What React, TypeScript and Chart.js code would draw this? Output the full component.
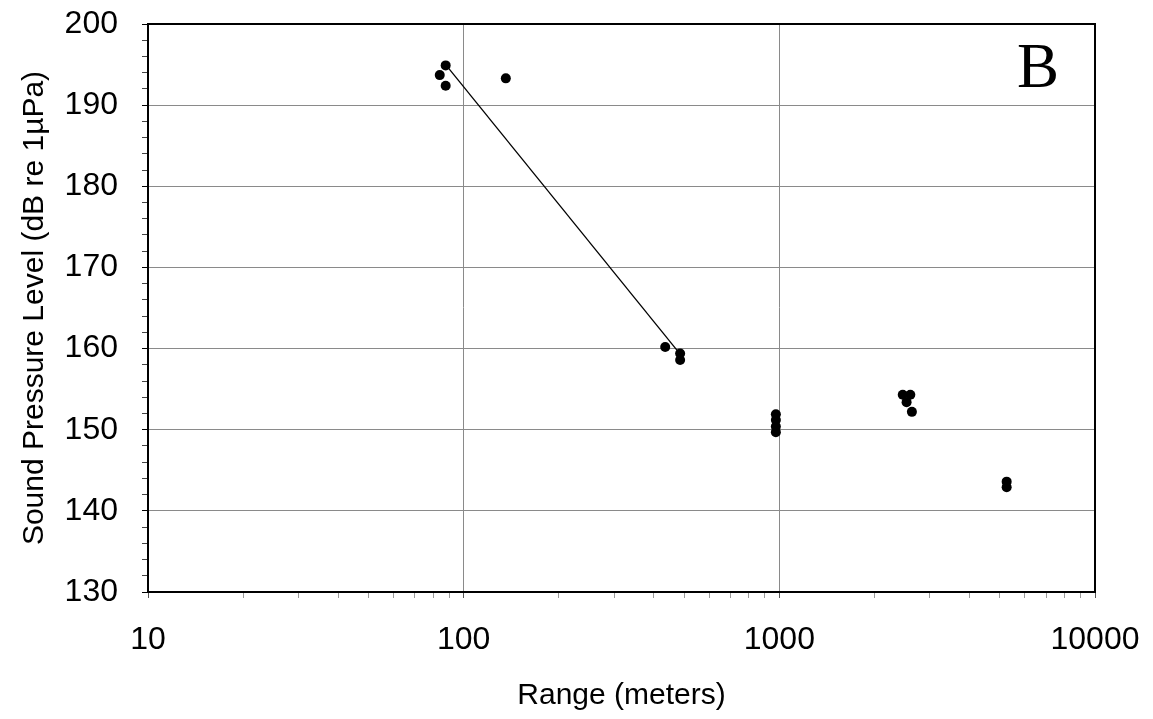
import React, { useEffect, useRef } from "react";
import { Chart, registerables } from "chart.js";

Chart.register(...registerables);

const pointRange = [84, 87.7, 87.7, 136, 435, 485, 485, 975, 975, 975, 975, 2460, 2600, 2530, 2630, 5250, 5250];
const pointSPL = [193.7, 194.9, 192.4, 193.3, 160.2, 159.4, 158.6, 151.9, 151.2, 150.4, 149.7, 154.3, 154.3, 153.4, 152.2, 143.6, 142.9];
const fitRange = [87.7, 488];
const fitSPL = [195.0, 159.2];
const xMajorTicks = [10, 100, 1000, 10000];
const yMajorTicks = [130, 140, 150, 160, 170, 180, 190, 200];
const panelLabel = "B";
const xTitle = "Range (meters)";
const yTitle = "Sound Pressure Level (dB re 1\u00b5Pa)";

const isMajorX = (v: number) => xMajorTicks.some((m) => Math.abs(m - v) < 1e-6);

const framePlugin = {
  id: "frame",
  afterDraw(chart: any) {
    const { ctx, chartArea } = chart;
    ctx.save();
    ctx.strokeStyle = "#000";
    ctx.lineWidth = 2;
    ctx.strokeRect(chartArea.left, chartArea.top, chartArea.right - chartArea.left, chartArea.bottom - chartArea.top);
    ctx.fillStyle = "#000";
    ctx.font = "63px 'Liberation Serif'";
    ctx.textAlign = "center";
    ctx.textBaseline = "alphabetic";
    ctx.fillText(panelLabel, chartArea.right - 57, chartArea.top + 63);
    ctx.restore();
  },
};

export default function App() {
  const ref = useRef<HTMLCanvasElement>(null);
  useEffect(() => {
    if (!ref.current) return;
    const chart = new Chart(ref.current, {
      type: "scatter",
      data: {
        datasets: [
          {
            type: "line",
            data: fitRange.map((x, i) => ({ x, y: fitSPL[i] })),
            borderColor: "#000",
            borderWidth: 1.3,
            pointRadius: 0,
            showLine: true,
            fill: false,
          } as any,
          {
            data: pointRange.map((x, i) => ({ x, y: pointSPL[i] })),
            backgroundColor: "#000",
            borderColor: "#000",
            pointRadius: 5,
            pointBorderWidth: 0,
          },
        ],
      },
      options: {
        animation: false,
        responsive: true,
        maintainAspectRatio: false,
        layout: { padding: { top: 24, right: 58, left: 0, bottom: 0 } },
        plugins: { legend: { display: false }, tooltip: { enabled: false } },
        scales: {
          x: {
            type: "logarithmic",
            min: 10,
            max: 10000,
            afterBuildTicks: (scale: any) => {
              const t: any[] = [];
              for (let d = 10; d < 10000; d *= 10) {
                for (let k = 1; k < 10; k++) t.push({ value: d * k });
              }
              t.push({ value: 10000 });
              scale.ticks = t;
            },
            afterFit: (scale: any) => {
              scale.height = 127;
              scale.paddingLeft = 0;
              scale.paddingRight = 0;
            },
            ticks: {
              autoSkip: false,
              maxRotation: 0,
              minRotation: 0,
              padding: 23,
              color: "#000",
              font: { family: "'Liberation Sans'", size: 32 },
              callback: (v: any) => (isMajorX(Number(v)) ? String(Number(v)) : ""),
            },
            grid: {
              color: (c: any) => (c.tick && isMajorX(c.tick.value) ? "#8a8a8a" : "rgba(0,0,0,0)"),
              tickColor: (c: any) => (c.tick && isMajorX(c.tick.value) ? "#555" : "#999"),
              tickLength: 6,
              lineWidth: 1,
            },
            border: { color: "#000", width: 2 },
            title: {
              display: true,
              text: xTitle,
              color: "#000",
              font: { family: "'Liberation Sans'", size: 30 },
              padding: { top: 0, bottom: 5 },
            },
          },
          y: {
            min: 130,
            max: 200,
            afterBuildTicks: (scale: any) => {
              const t: any[] = [];
              for (let v = 130; v <= 200; v += 2) t.push({ value: v });
              scale.ticks = t;
            },
            afterFit: (scale: any) => {
              scale.width = 148;
              scale.paddingTop = 0;
              scale.paddingBottom = 0;
            },
            ticks: {
              autoSkip: false,
              padding: 24,
              color: "#000",
              font: { family: "'Liberation Sans'", size: 32 },
              callback: (v: any) => (yMajorTicks.includes(Number(v)) ? String(v) : ""),
            },
            grid: {
              color: (c: any) => (c.tick && c.tick.value % 10 === 0 ? "#8a8a8a" : "rgba(0,0,0,0)"),
              tickColor: (c: any) => (c.tick && c.tick.value % 10 === 0 ? "#000" : "#444"),
              tickLength: 6,
              lineWidth: 1,
            },
            border: { color: "#000", width: 2 },
            title: {
              display: true,
              text: yTitle,
              color: "#000",
              font: { family: "'Liberation Sans'", size: 30 },
              padding: { top: 17, bottom: 0 },
            },
          },
        },
      },
      plugins: [framePlugin],
    });
    return () => chart.destroy();
  }, []);
  return (
    <div style={{ position: "fixed", left: 0, top: 0, width: 1153, height: 719, background: "#fff" }}>
      <canvas ref={ref} />
    </div>
  );
}
